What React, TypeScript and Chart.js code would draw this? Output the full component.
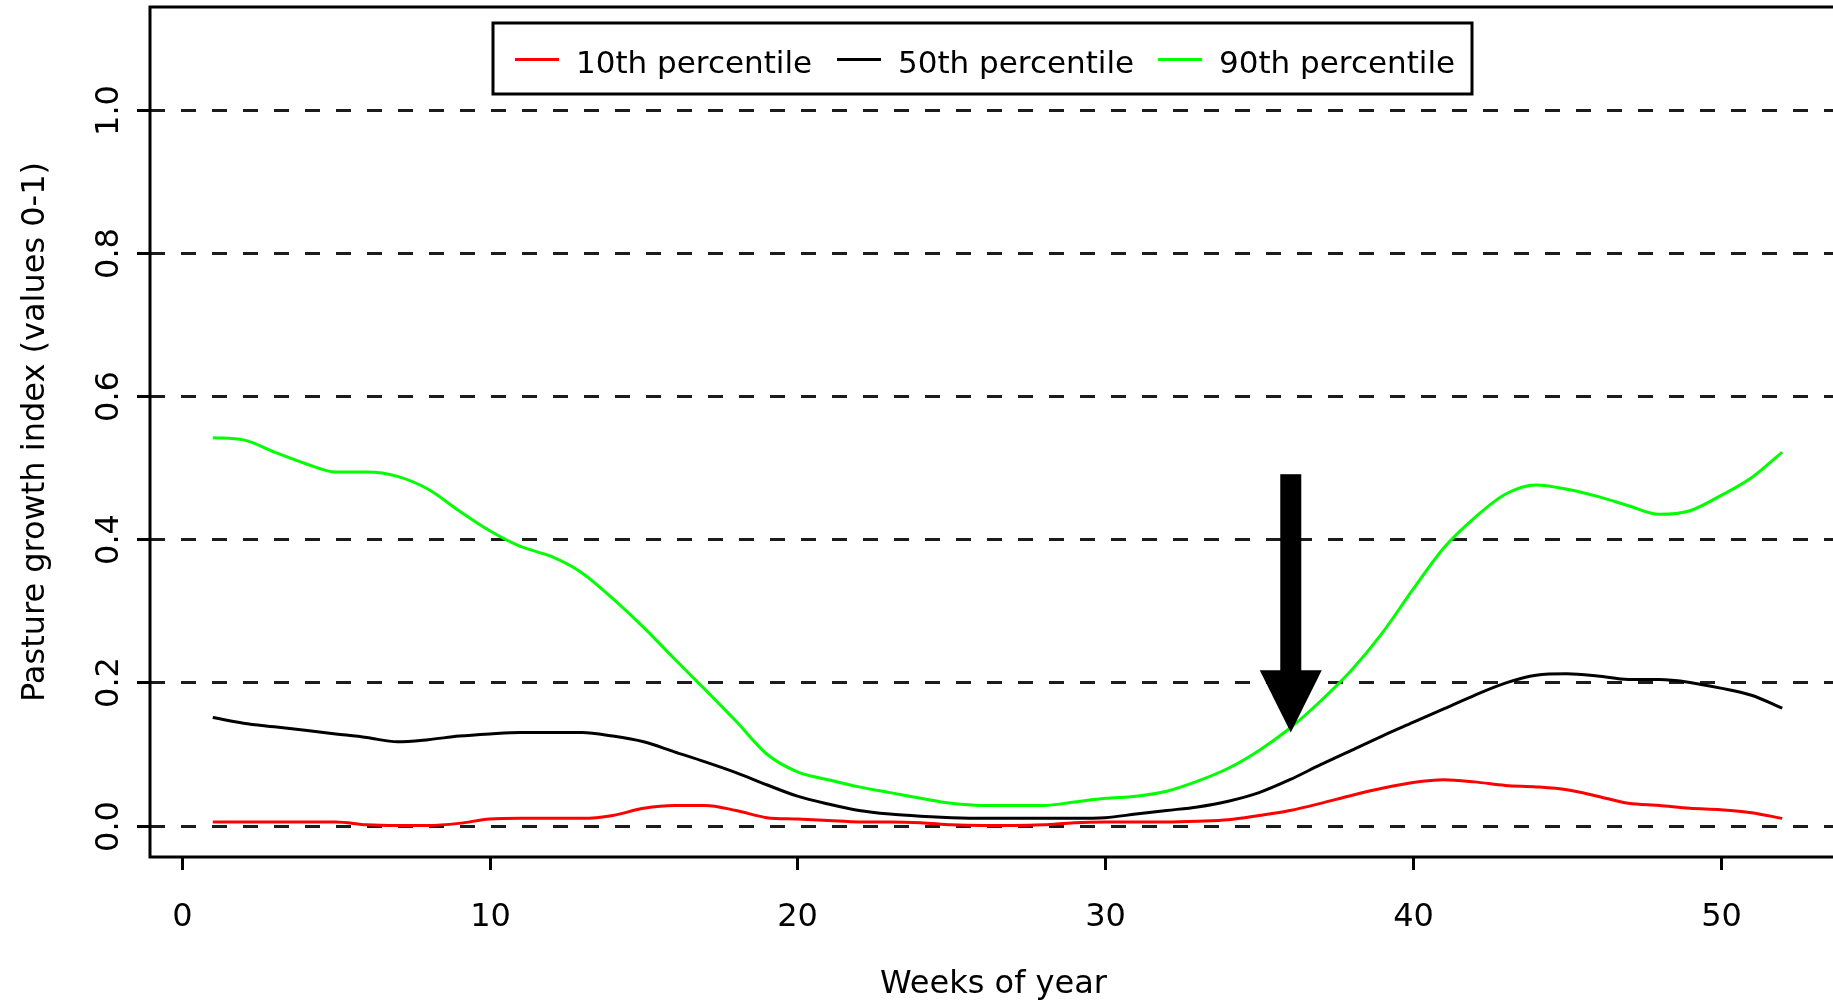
import { useEffect, useRef } from "react";
import { Chart, registerables } from "chart.js";

Chart.register(...registerables);

const weeks = [1, 2, 3, 4, 5, 6, 7, 8, 9, 10, 11, 12, 13, 14, 15, 16, 17, 18, 19, 20, 21, 22, 23, 24, 25, 26, 27, 28, 29, 30, 31, 32, 33, 34, 35, 36, 37, 38, 39, 40, 41, 42, 43, 44, 45, 46, 47, 48, 49, 50, 51, 52];

const p10 = [0.005, 0.005, 0.005, 0.005, 0.005, 0.001, 0.0, 0.0, 0.003, 0.009, 0.01, 0.01, 0.01, 0.014, 0.024, 0.028, 0.028, 0.021, 0.011, 0.009, 0.007, 0.005, 0.005, 0.004, 0.001, 0.0, 0.0, 0.001, 0.004, 0.005, 0.005, 0.005, 0.006, 0.008, 0.014, 0.021, 0.031, 0.042, 0.052, 0.06, 0.064, 0.061, 0.056, 0.054, 0.05, 0.041, 0.031, 0.028, 0.024, 0.022, 0.018, 0.01];

const p50 = [0.151, 0.143, 0.138, 0.133, 0.128, 0.123, 0.117, 0.12, 0.125, 0.128, 0.13, 0.13, 0.13, 0.125, 0.117, 0.103, 0.089, 0.074, 0.057, 0.041, 0.03, 0.021, 0.016, 0.013, 0.011, 0.01, 0.01, 0.01, 0.01, 0.011, 0.016, 0.021, 0.026, 0.034, 0.046, 0.064, 0.085, 0.105, 0.125, 0.144, 0.163, 0.182, 0.199, 0.21, 0.212, 0.209, 0.204, 0.204, 0.2, 0.192, 0.182, 0.164];

const p90 = [0.542, 0.539, 0.522, 0.506, 0.494, 0.494, 0.488, 0.47, 0.44, 0.412, 0.39, 0.376, 0.353, 0.317, 0.277, 0.233, 0.19, 0.146, 0.1, 0.075, 0.064, 0.054, 0.046, 0.038, 0.031, 0.028, 0.028, 0.028, 0.033, 0.038, 0.041, 0.048, 0.062, 0.08, 0.105, 0.136, 0.174, 0.217, 0.269, 0.33, 0.388, 0.43, 0.463, 0.476, 0.47, 0.46, 0.447, 0.435, 0.44, 0.461, 0.486, 0.522];

const seriesNames = ["10th percentile", "50th percentile", "90th percentile"];
const seriesColors = ["#ff0000", "#000000", "#00ff00"];

const xTicks = [0, 10, 20, 30, 40, 50];
const xTickLabels = ["0", "10", "20", "30", "40", "50"];
const yTicks = [0, 0.2, 0.4, 0.6, 0.8, 1.0];
const yTickLabels = ["0.0", "0.2", "0.4", "0.6", "0.8", "1.0"];

const xTitle = "Weeks of year";
const yTitle = "Pasture growth index (values 0-1)";

// arrow annotation (data coordinates)
const arrowWeek = 36.03;
const arrowTop = 0.491;
const arrowBase = 0.217;
const arrowTip = 0.13;

const FONT = "DejaVu Sans";

const rPlotPlugin = {
  id: "rPlot",
  beforeDatasetsDraw(chart: any) {
    const { ctx, chartArea: a } = chart;
    const y = chart.scales.y;
    ctx.save();
    ctx.strokeStyle = "#1c1c1c";
    ctx.lineWidth = 3;
    ctx.setLineDash([15, 16]);
    yTicks.forEach((v) => {
      const py = Math.round(y.getPixelForValue(v)) + 0.5;
      ctx.beginPath();
      ctx.moveTo(a.left, py);
      ctx.lineTo(a.right, py);
      ctx.stroke();
    });
    ctx.restore();
  },
  afterDatasetsDraw(chart: any) {
    const { ctx, chartArea: a } = chart;
    const x = chart.scales.x;
    const y = chart.scales.y;
    ctx.save();

    // arrow
    const ax = x.getPixelForValue(arrowWeek);
    const aTop = y.getPixelForValue(arrowTop);
    const aBase = y.getPixelForValue(arrowBase);
    const aTip = y.getPixelForValue(arrowTip);
    ctx.fillStyle = "#000";
    ctx.fillRect(ax - 10.5, aTop, 21, aBase - aTop + 1);
    ctx.beginPath();
    ctx.moveTo(ax - 31, aBase);
    ctx.lineTo(ax + 31, aBase);
    ctx.lineTo(ax, aTip);
    ctx.closePath();
    ctx.fill();

    // box
    ctx.strokeStyle = "#000";
    ctx.lineWidth = 3;
    ctx.setLineDash([]);
    ctx.strokeRect(a.left, a.top, a.right - a.left, a.bottom - a.top);

    // x ticks
    ctx.lineWidth = 3;
    ctx.fillStyle = "#000";
    ctx.font = `32px "${FONT}"`;
    ctx.textAlign = "center";
    ctx.textBaseline = "alphabetic";
    xTicks.forEach((v, i) => {
      const px = Math.round(x.getPixelForValue(v)) + 0.5;
      ctx.beginPath();
      ctx.moveTo(px, a.bottom);
      ctx.lineTo(px, a.bottom + 13);
      ctx.stroke();
      ctx.fillText(xTickLabels[i], px, 926);
    });

    // y ticks
    yTicks.forEach((v, i) => {
      const py = Math.round(y.getPixelForValue(v)) + 0.5;
      ctx.beginPath();
      ctx.moveTo(a.left - 13, py);
      ctx.lineTo(a.left, py);
      ctx.stroke();
      ctx.save();
      ctx.translate(118, py);
      ctx.rotate(-Math.PI / 2);
      ctx.fillText(yTickLabels[i], 0, 0);
      ctx.restore();
    });

    // titles
    ctx.fillText(xTitle, (a.left + a.right) / 2 - 4, 993);
    ctx.save();
    ctx.translate(44, (a.top + a.bottom) / 2);
    ctx.rotate(-Math.PI / 2);
    ctx.fillText(yTitle, 0, 0);
    ctx.restore();

    // legend
    const lx0 = 493, ly0 = 23, lx1 = 1472, ly1 = 94;
    ctx.fillStyle = "#fff";
    ctx.fillRect(lx0, ly0, lx1 - lx0, ly1 - ly0);
    ctx.strokeStyle = "#000";
    ctx.lineWidth = 3;
    ctx.strokeRect(lx0, ly0, lx1 - lx0, ly1 - ly0);
    const sampleX = [515, 837, 1158];
    const textX = [576, 898, 1219];
    ctx.font = `31px "${FONT}"`;
    ctx.textAlign = "left";
    seriesNames.forEach((name, i) => {
      ctx.strokeStyle = seriesColors[i];
      ctx.lineWidth = 3;
      ctx.beginPath();
      ctx.moveTo(sampleX[i], 59.5);
      ctx.lineTo(sampleX[i] + 44, 59.5);
      ctx.stroke();
      ctx.fillStyle = "#000";
      ctx.fillText(name, textX[i], 73);
    });

    ctx.restore();
  },
};

export default function App() {
  const canvasRef = useRef<HTMLCanvasElement | null>(null);

  useEffect(() => {
    const canvas = canvasRef.current;
    if (!canvas) return;
    const series = [p10, p50, p90];
    const chart = new Chart(canvas, {
      type: "line",
      data: {
        datasets: series.map((vals, i) => ({
          label: seriesNames[i],
          data: weeks.map((w, j) => ({ x: w, y: vals[j] })),
          borderColor: seriesColors[i],
          backgroundColor: seriesColors[i],
          borderWidth: 3,
          pointRadius: 0,
          fill: false,
          cubicInterpolationMode: "monotone" as const,
        })),
      },
      options: {
        responsive: false,
        animation: false,
        devicePixelRatio: 1,
        layout: { padding: { top: 7, right: 35, left: 0, bottom: 0 } },
        plugins: {
          legend: { display: false },
          tooltip: { enabled: false },
          title: { display: false },
        },
        scales: {
          x: {
            type: "linear",
            min: -1.04,
            max: 54.04,
            grid: { display: false },
            border: { display: false },
            ticks: { display: false },
            afterFit: (s: any) => {
              s.height = 146;
            },
          },
          y: {
            type: "linear",
            min: -0.044,
            max: 1.144,
            grid: { display: false },
            border: { display: false },
            ticks: { display: false },
            afterFit: (s: any) => {
              s.width = 150;
            },
          },
        },
      },
      plugins: [rPlotPlugin],
    });
    return () => chart.destroy();
  }, []);

  return (
    <div
      style={{
        position: "absolute",
        left: 0,
        top: 0,
        width: 1833,
        height: 1003,
        overflow: "hidden",
        background: "#fff",
      }}
    >
      <canvas ref={canvasRef} width={1880} height={1003} style={{ display: "block" }} />
    </div>
  );
}
